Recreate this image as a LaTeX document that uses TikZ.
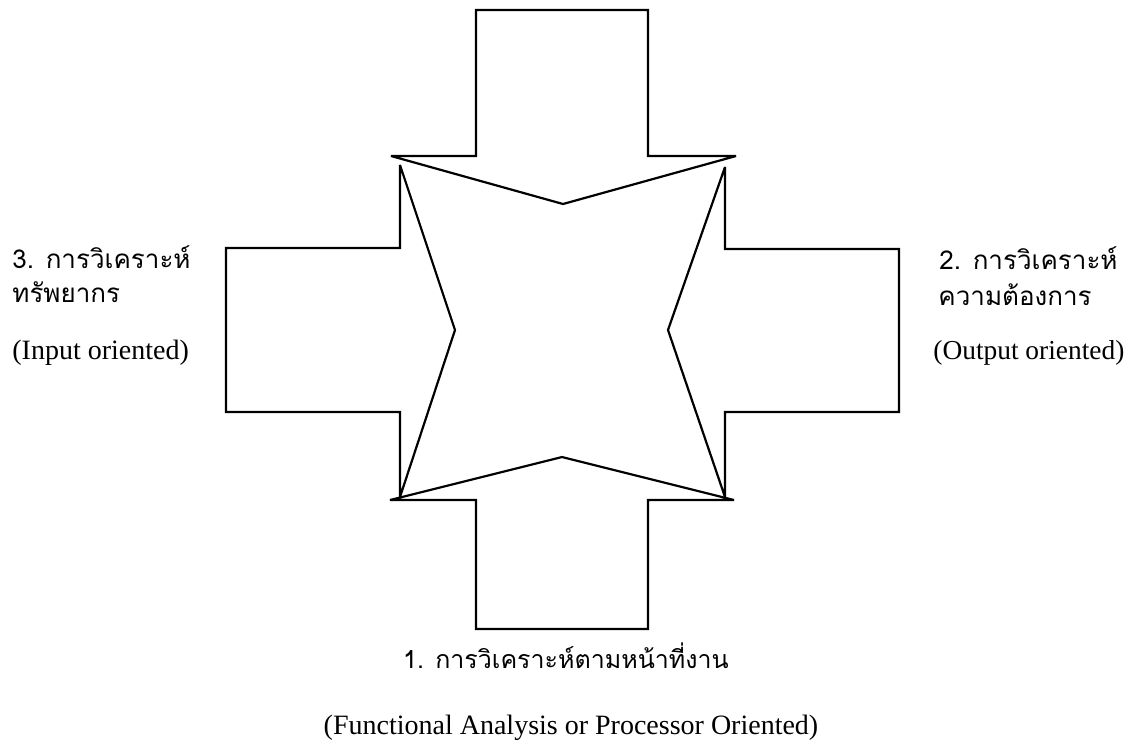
\documentclass[tikz,border=0pt]{standalone}
\usepackage{fontspec}
\setmainfont{Liberation Serif}
\newfontfamily\thaifont[Script=Thai]{Loma}
\begin{document}
\begin{tikzpicture}[x=0.5pt,y=-0.5pt,
  arrowshape/.style={draw=black,line width=1.1pt,line join=miter,miter limit=4},
  entext/.style={inner sep=0pt,anchor=base west,font=\fontsize{13.7}{16}\selectfont},
  thtext/.style={inner sep=0pt,anchor=base west,font=\thaifont\fontsize{13}{16}\selectfont}]
\useasboundingbox[fill=white] (0,0) rectangle (1132,741);
% top arrow
\draw[arrowshape] (476,10) -- (648,10) -- (648,156) -- (736,156) -- (563,204) -- (391,156) -- (476,156) -- cycle;
% bottom arrow
\draw[arrowshape] (476,629) -- (648,629) -- (648,500) -- (734,500) -- (562,457) -- (390,500) -- (476,500) -- cycle;
% left arrow
\draw[arrowshape] (226,248) -- (400,248) -- (400,165) -- (455,330) -- (400,497) -- (400,412) -- (226,412) -- cycle;
% right arrow
\draw[arrowshape] (899,249) -- (725,249) -- (725,167) -- (668,330) -- (725,497) -- (725,412) -- (899,412) -- cycle;
% texts
\node[thtext] (l1) at (12,268) {3. การวิเคราะห์};
\node[thtext] (l2) at (12,302) {ทรัพยากร};
\node[entext,font=\fontsize{14}{16}\selectfont] (l3) at (12,359) {(Input oriented)};
\node[thtext] (r1) at (939,269) {2. การวิเคราะห์};
\node[thtext] (r2) at (938,305) {ความต้องการ};
\node[entext] (r3) at (933,359) {(Output oriented)};
\node[thtext,anchor=base,font=\thaifont\fontsize{12.5}{16}\selectfont] (b1) at (566,668) {1. การวิเคราะห์ตามหน้าที่งาน};
\node[entext,anchor=base,font=\fontsize{14}{16}\selectfont] (b2) at (571,734) {(Functional Analysis or Processor Oriented)};
\end{tikzpicture}
\end{document}
